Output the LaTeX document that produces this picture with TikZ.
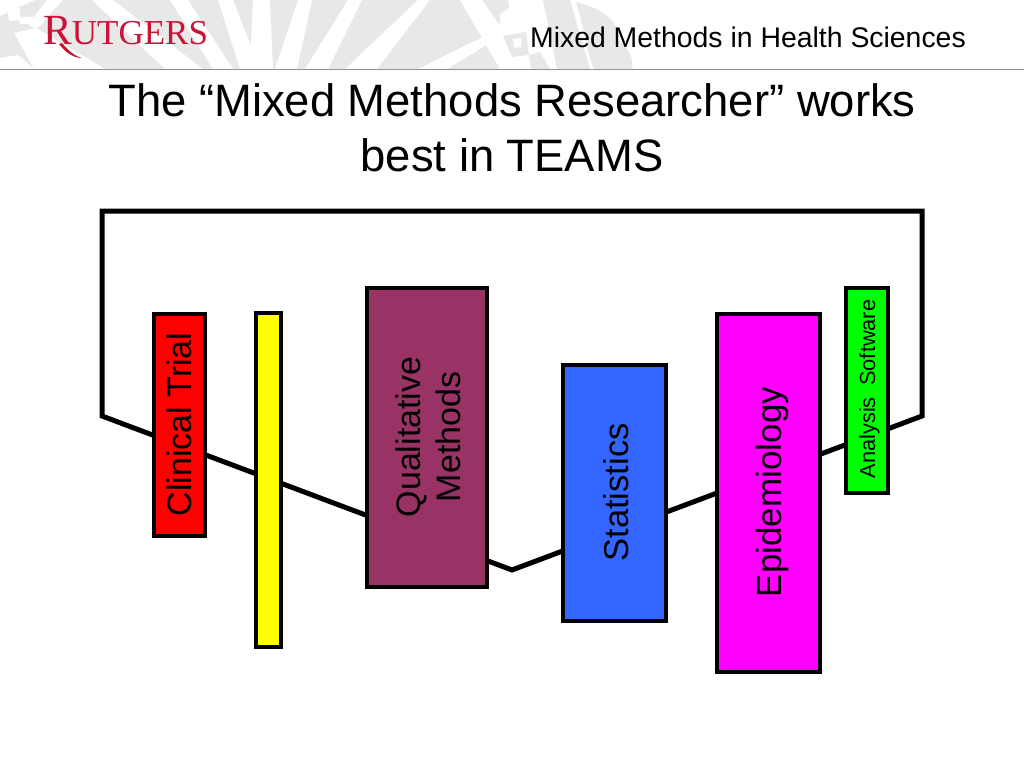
\documentclass[tikz,border=0pt]{standalone}
\usepackage{fontspec}
\setmainfont{Liberation Sans}
\newfontfamily\serifrut{Liberation Serif}
\definecolor{wm}{HTML}{E8E8E8}
\definecolor{rutred}{HTML}{CC1236}
\definecolor{plum}{HTML}{993366}
\definecolor{bluebox}{HTML}{3366FF}
\definecolor{pureyellow}{HTML}{FFFF00}
\definecolor{puremagenta}{HTML}{FF00FF}
\definecolor{puregreen}{HTML}{00FF00}
\definecolor{purered}{HTML}{FF0000}
\tikzset{
  teambox/.style={draw=black,line width=4pt,inner sep=0pt,outer sep=0pt},
  lbl/.style={font=\fontsize{#1}{#1}\selectfont},
  boxtext/.style={rotate=90,anchor=base,inner sep=0pt,text=black},
  ray/.style={fill=white,draw=none},
  grayshape/.style={fill=wm,draw=none}
}
\begin{document}
\begin{tikzpicture}[x=1pt,y=-1pt]
\useasboundingbox (0,0) rectangle (1024,768);
\fill[white] (0,0) rectangle (1024,768);
% watermark
\fill[grayshape] (0,0) rectangle (505,69);
\fill[ray] (0,0) -- (35,0) -- (0,16) -- cycle;
\fill[ray] (7,9) -- (20,8) -- (20,20) -- (9,21) -- cycle;
\fill[ray] (18,17) -- (33,17) -- (33,24) -- (20,24) -- cycle;
\fill[ray] (47,0) -- (63,0) -- (36,30) -- (28,24) -- cycle;
\fill[ray] (14,33) -- (36,28) -- (105,69) -- (34,69) -- cycle;
\fill[ray] (0,58) -- (18,55) -- (34,69) -- (0,69) -- cycle;
\fill[ray] (92,0) -- (113,0) -- (203,69) -- (165,69) -- cycle;
\fill[ray] (170,0) -- (188,0) -- (233,69) -- (213,69) -- cycle;
\fill[ray] (218,0) -- (233,0) -- (260,69) -- (240,69) -- cycle;
\fill[ray] (253,0) -- (270,0) -- (273,69) -- (250,69) -- cycle;
\fill[ray] (298,0) -- (312,0) -- (297,69) -- (275,69) -- cycle;
\fill[ray] (348,0) -- (362,0) -- (328,69) -- (305,69) -- cycle;
\fill[ray] (418,0) -- (430,0) -- (377,69) -- (345,69) -- cycle;
\fill[ray] (485,36) -- (490,43) -- (447,69) -- (418,69) -- cycle;
\fill[ray] (460,0) -- (482,0) -- (530,69) -- (500,69) -- cycle;
\fill[ray] (500,0) rectangle (640,69);
\fill[grayshape] (492,0) -- (508,0) -- (509,8) -- (497,16) -- cycle;
\fill[grayshape] (503,36) -- (526,32) -- (529,55) -- (512,57) -- cycle;
\fill[white] (513,39) -- (521,38) -- (521,47) -- (514,48) -- cycle;
\fill[grayshape] (529,55) -- (540,52) -- (550,69) -- (531,69) -- cycle;
\fill[grayshape] (543,0) -- (570,0) -- (590,69) -- (557,69) -- cycle;
\fill[grayshape] (576,2) .. controls (600,8) and (620,20) .. (618,40) .. controls (630,50) and (634,60) .. (632,69) -- (594,69) .. controls (586,50) and (582,20) .. (576,2) -- cycle;
% header rule
\draw[draw=gray!85,line width=1pt] (0,69.3) -- (1024,69.3);
% logo and header
\node[anchor=base west,inner sep=0pt,text=rutred] (logo) at (43,45) {\serifrut\fontsize{43}{43}\selectfont R\fontsize{35}{35}\selectfont UTGERS};
\fill[rutred] (62,43) .. controls (68,50) and (74,56) .. (82,58) .. controls (73,58) and (65,52) .. (59,44) -- cycle;
\node[anchor=base east,inner sep=0pt,lbl=28.4] (header) at (966,47.7) {Mixed Methods in Health Sciences};
% title
\node[anchor=base,inner sep=0pt,lbl=45.4] (title1) at (512,116) {The “Mixed Methods Researcher” works};
\node[anchor=base,inner sep=0pt,lbl=45.4] (title2) at (512,171) {best in TEAMS};
% outline
\coordinate (tl) at (102,211);
\coordinate (tr) at (922,211);
\coordinate (rb) at (922,416);
\coordinate (bot) at (512,570);
\coordinate (lb) at (102,416);
\draw[line width=5pt,line join=miter] (tl) -- (tr) -- (rb) -- (bot) -- (lb) -- cycle;
% boxes
\node[teambox,fill=purered,minimum width=51pt,minimum height=222pt] (clinical) at (179,425) {};
\node[teambox,fill=pureyellow,minimum width=25.6pt,minimum height=334pt] (yellowbar) at (268.5,480) {};
\node[teambox,fill=plum,minimum width=119.7pt,minimum height=299pt] (qual) at (426.9,437.3) {};
\node[teambox,fill=bluebox,minimum width=102.7pt,minimum height=256pt] (stats) at (614.3,492.8) {};
\node[teambox,fill=puremagenta,minimum width=102.7pt,minimum height=358pt] (epi) at (768.3,492.8) {};
\node[teambox,fill=puregreen,minimum width=42.3pt,minimum height=205.3pt] (soft) at (866.8,390.3) {};
% labels
\node[boxtext,lbl=34] (clinicalText) at (191.5,424.5) {Clinical Trial};
\node[boxtext,lbl=34] (qualText1) at (420,437) {Qualitative};
\node[boxtext,lbl=34] (qualText2) at (460.7,437) {Methods};
\node[boxtext,lbl=34.5] (statsText) at (628,492.5) {Statistics};
\node[boxtext,lbl=35] (epiText) at (781.7,492) {Epidemiology};
\node[boxtext,lbl=21.8] (softText) at (875,389) {Analysis\hspace{0.25em} Software};
\end{tikzpicture}
\end{document}
